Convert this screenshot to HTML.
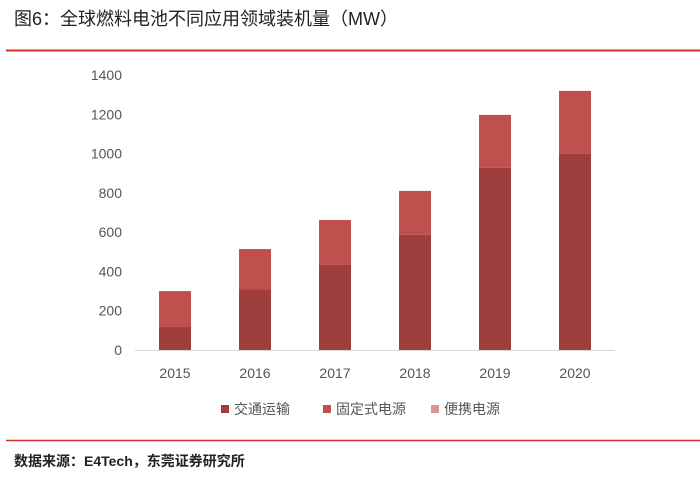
<!DOCTYPE html>
<html><head><meta charset="utf-8"><style>
body{margin:0;background:#fff;width:700px;height:479px;overflow:hidden;font-family:"Liberation Sans","Noto Sans CJK SC",sans-serif}
</style></head><body>
<svg width="700" height="479" xmlns="http://www.w3.org/2000/svg">
<text x="14" y="25" font-size="18" fill="#222" font-family="Liberation Sans,Noto Sans CJK SC,sans-serif">图6：全球燃料电池不同应用领域装机量（MW）</text>
<line x1="6" y1="50.5" x2="700" y2="50.5" stroke="#d0302c" stroke-width="2"/>
<g id="yaxis" font-size="14" fill="#555" text-anchor="end"></g>
<line x1="135" y1="350.5" x2="615" y2="350.5" stroke="#d9d9d9"/>
<g id="bars"></g>
<g id="xaxis" font-size="14" fill="#555" text-anchor="middle"></g>
<g font-size="14" fill="#555">
<g><rect x="221" y="405" width="8" height="8" fill="#9e3f3e"/><text x="234" y="414">交通运输</text></g>
<g><rect x="323" y="405" width="8" height="8" fill="#c0504d"/><text x="336" y="414">固定式电源</text></g>
<g><rect x="431" y="405" width="8" height="8" fill="#d99694"/><text x="444" y="414">便携电源</text></g>
</g>
<line x1="6" y1="440.5" x2="700" y2="440.5" stroke="#d0302c" stroke-width="1.5"/>
<text x="14" y="466" font-size="14" font-weight="bold" fill="#222" font-family="Liberation Sans,Noto Sans CJK SC,sans-serif">数据来源：E4Tech，东莞证券研究所</text>
</svg>
<script>
const categories=["2015","2016","2017","2018","2019","2020"];
const transport=[117,310,433,586,927,998];
const stationary=[183,204,229,224,270,321];
const portable=[0,0,0,0,0,0];
const yTicks=[0,200,400,600,800,1000,1200,1400];
const NS="http://www.w3.org/2000/svg";
const y=v=>350-v*275/1400;
const x=i=>135+80*i+40;
const ya=document.getElementById('yaxis');
yTicks.forEach(t=>{const e=document.createElementNS(NS,'text');


e.setAttribute('x',122);e.setAttribute('y',y(t)+5);e.textContent=t;ya.appendChild(e);});
const xa=document.getElementById('xaxis'),bg=document.getElementById('bars');
function bar(i,b,v,c,n){const r=document.createElementNS(NS,'rect');


r.setAttribute('x',x(i)-16);r.setAttribute('width',32);r.setAttribute('y',y(b+v));r.setAttribute('height',y(b)-y(b+v));r.setAttribute('fill',c);bg.appendChild(r);}
categories.forEach((c,i)=>{
bar(i,0,transport[i],'#9e3f3e','bar-transport-'+c);
bar(i,transport[i],stationary[i],'#c0504d','bar-stationary-'+c);
if(portable[i]>0)bar(i,transport[i]+stationary[i],portable[i],'#d99694','bar-portable-'+c);
const e=document.createElementNS(NS,'text');


e.setAttribute('x',x(i));e.setAttribute('y',378);e.textContent=c;xa.appendChild(e);});
</script>
</body></html>
